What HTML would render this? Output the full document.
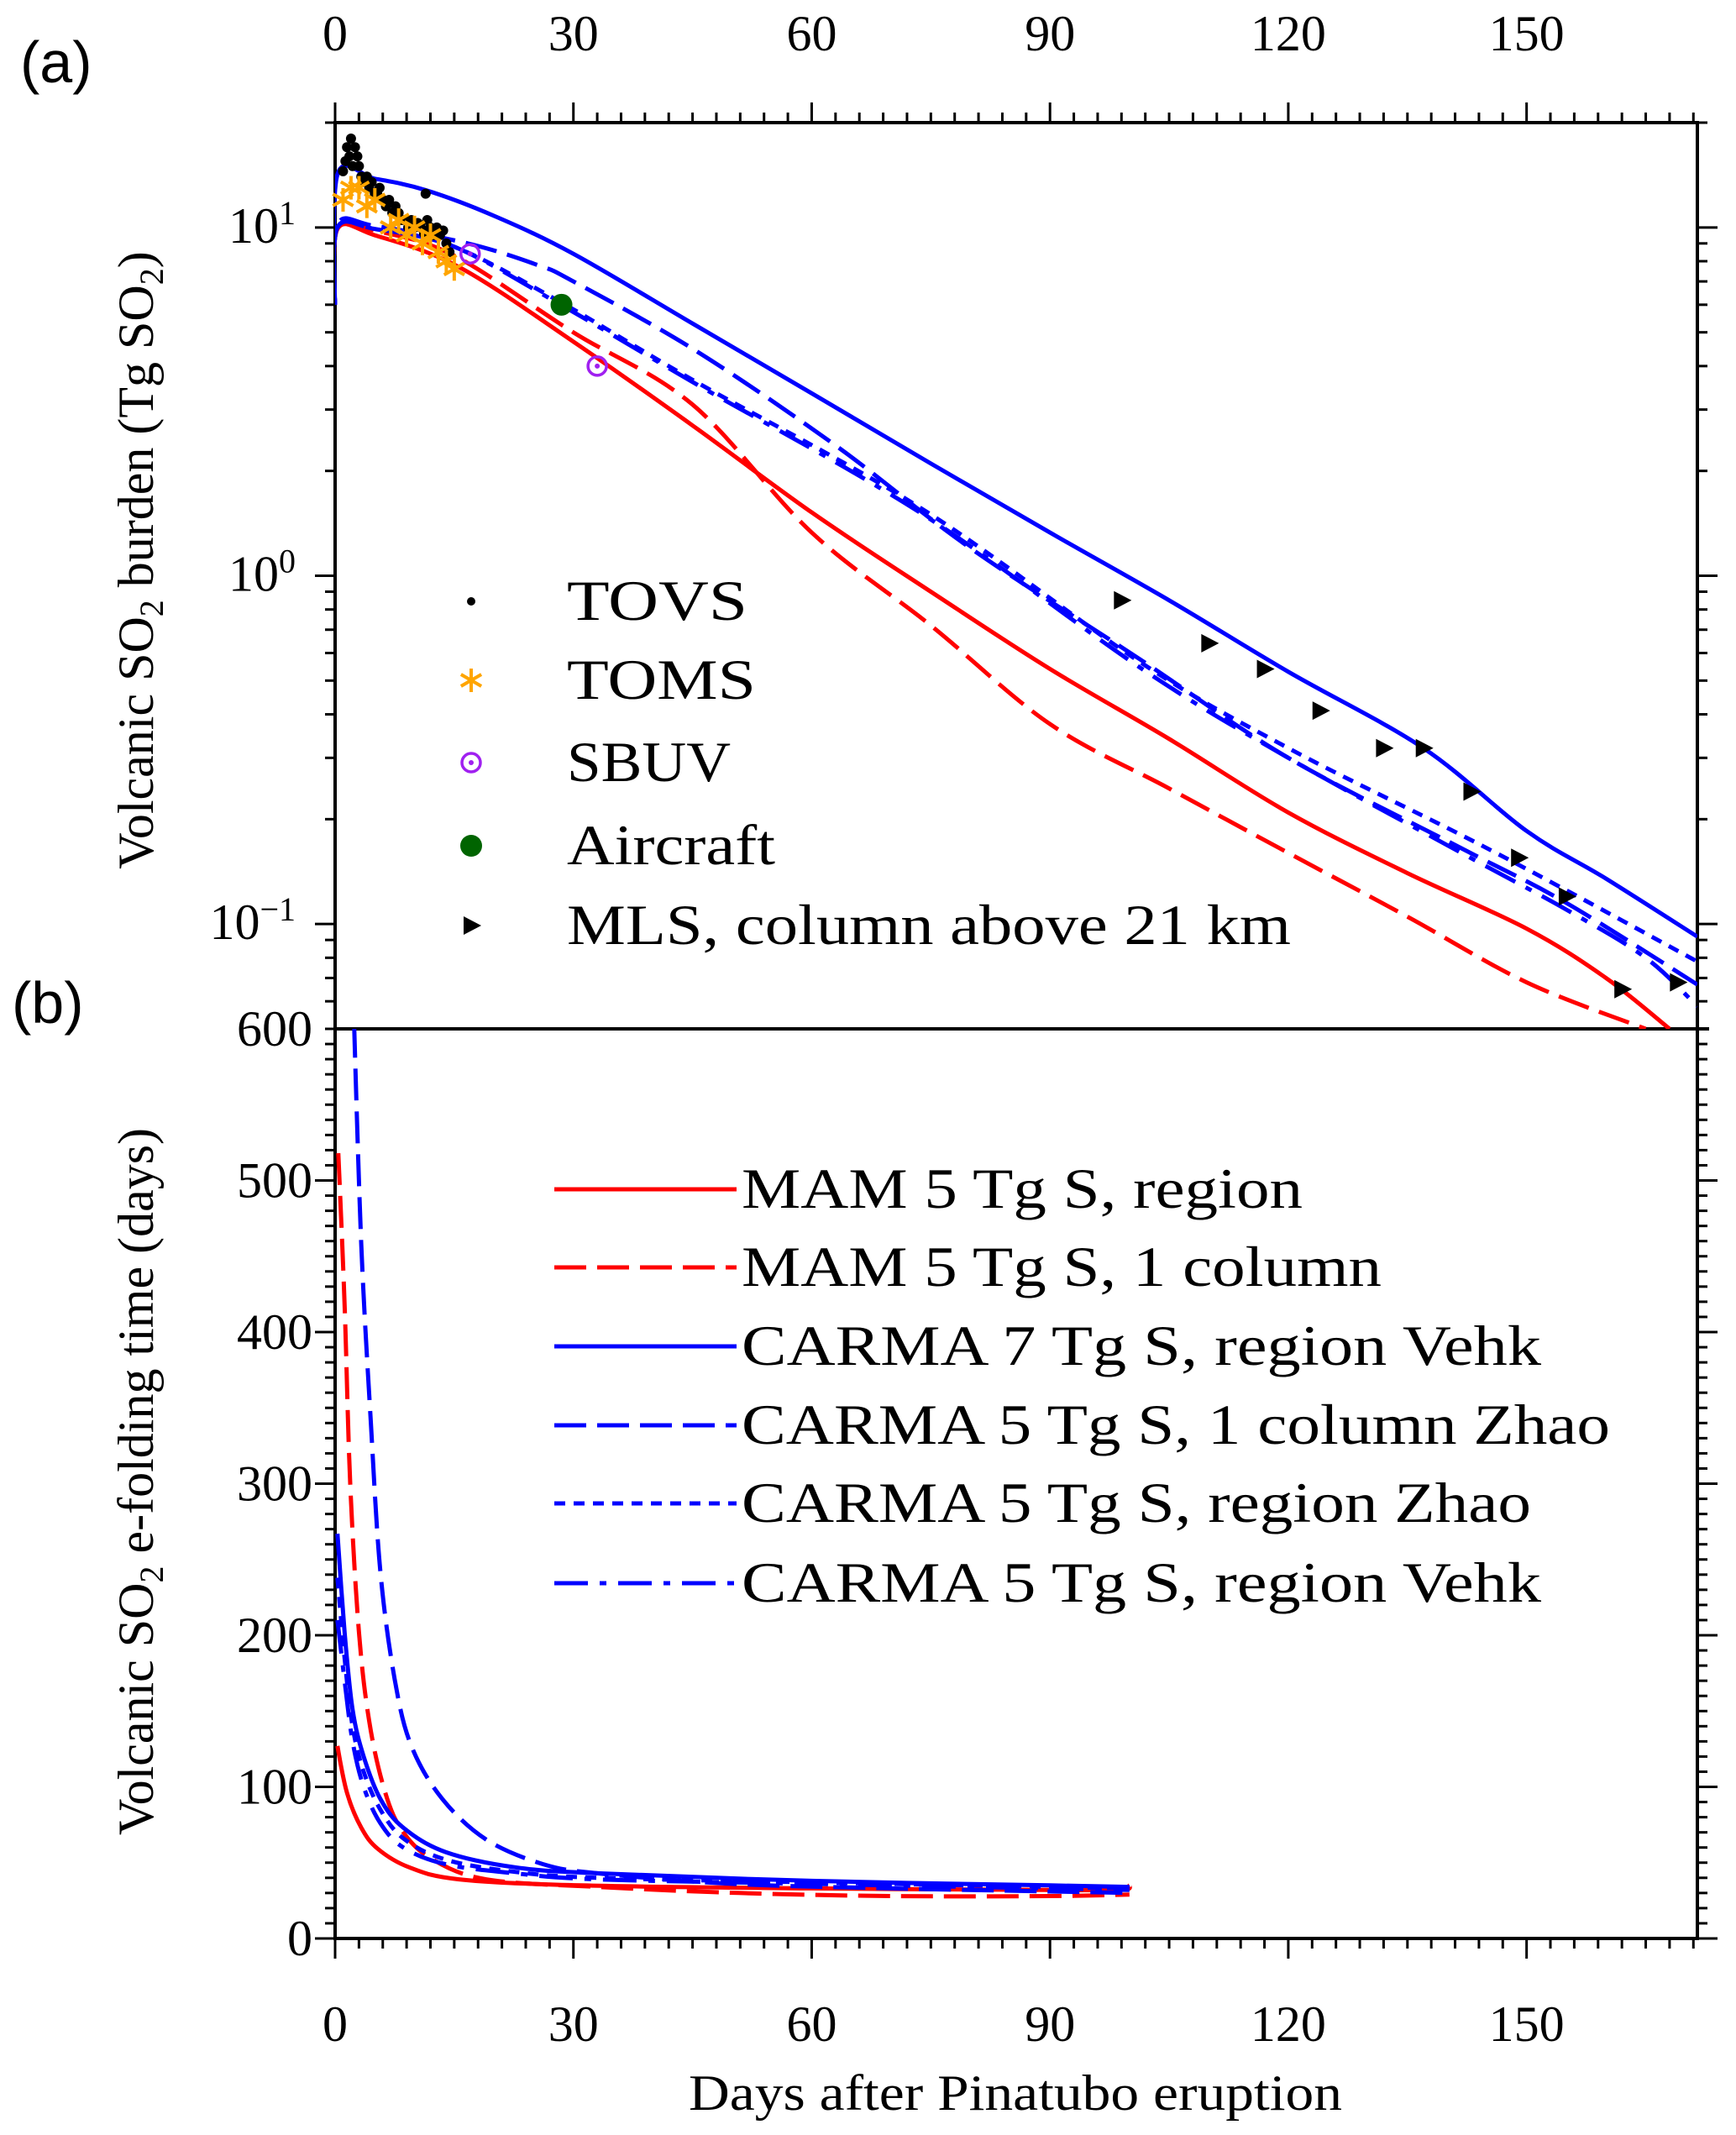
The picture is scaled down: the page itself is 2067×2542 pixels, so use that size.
<!DOCTYPE html>
<html><head><meta charset="utf-8">
<style>
html,body{margin:0;padding:0;background:#fff;}
svg{display:block;}
svg text{font-family:"Liberation Serif","Times New Roman",Times,serif;}
</style></head>
<body>
<svg id="chart" width="2067" height="2542" viewBox="0 0 2067 2542" xmlns="http://www.w3.org/2000/svg">
<defs>
<clipPath id="clipTop"><rect x="399" y="146" width="1622" height="1079"/></clipPath>
<clipPath id="clipBot"><rect x="399" y="1225" width="1622" height="1083"/></clipPath>
</defs>
<g id="axes"></g>
<g id="marks"></g>
<g id="labels">
<text x="24" y="98" style="font-family:'Liberation Sans',sans-serif" font-size="70">(a)</text>
<text x="14" y="1218" style="font-family:'Liberation Sans',sans-serif" font-size="70">(b)</text>
<text x="1209" y="2512" font-size="60" text-anchor="middle" textLength="778" lengthAdjust="spacingAndGlyphs">Days after Pinatubo eruption</text>
<text transform="translate(182,667) rotate(-90)" font-size="60" text-anchor="middle">Volcanic SO<tspan font-size="40" dy="12">2</tspan><tspan dy="-12"> burden (Tg SO</tspan><tspan font-size="40" dy="12">2</tspan><tspan dy="-12">)</tspan></text>
<text transform="translate(182,1764) rotate(-90)" font-size="60" text-anchor="middle">Volcanic SO<tspan font-size="40" dy="12">2</tspan><tspan dy="-12"> e-folding time (days)</tspan></text>
</g>
</svg>
<script>
// ---- data ----
const xTicks = [0,30,60,90,120,150];
const logTickExp = [1,0,-1];
const bTicks = [0,100,200,300,400,500,600];

const topMamRegionDays = [0,0.3,5,15.6,30,45,60,75,90,105,120,135,150,160,168];
const topMamRegionVals = [6,9.9,9.5,7.7,4.7,2.7,1.52,0.9,0.54,0.34,0.209,0.14,0.097,0.07,0.05];
const topMamColDays = [0,0.3,5,15,30,45,60,75,90,105,120,135,150,165];
const topMamColVals = [6,10,9.8,8.3,5.0,3.1,1.33,0.72,0.375,0.245,0.16,0.105,0.068,0.05];
const topCarma7Days = [0,0.3,5,11.4,20,30,45,60,75,90,105,120,137,150,160,171.5];
const topCarma7Vals = [6,14.2,13.8,12.8,10.8,8.4,5.3,3.34,2.1,1.33,0.85,0.53,0.32,0.185,0.135,0.092];
const topCarmaColDays = [0,0.3,5,16.7,25.5,30,45.6,63.3,80,101.6,120,141.8,155,171.5];
const topCarmaColVals = [6,10.2,10.1,9.0,7.8,7.0,4.4,2.34,1.2,0.57,0.3,0.165,0.115,0.067];
const topCarmaZhaoDays = [0,0.3,5,15,28.4,45,74,101.6,120,141.8,155,171.5];
const topCarmaZhaoVals = [6,10,9.9,8.8,6.1,3.65,1.55,0.56,0.32,0.18,0.125,0.078];
const topCarmaVehkDays = [0,0.3,5,15,28.4,45,74,101.6,120,141.8,155,165,171.5];
const topCarmaVehkVals = [6,10,9.9,8.8,6.0,3.6,1.5,0.54,0.3,0.16,0.11,0.08,0.058];

const tovsDays = [1,1.3,1.5,1.8,2,2.2,2.5,2.8,3,3.3,3.5,3.8,4,4.3,4.6,5,5.3,5.6,6,6.4,6.8,7.2,7.6,8,8.4,8.8,9.2,9.6,10,10.4,10.8,11.2,11.6,12,12.4,12.8,13.2,13.6,14,14.4,11.4];
const tovsVals = [14.5,15.5,17,16,18,15,17,16,15,14,13.5,13.5,14,13,13.5,12.5,12.5,13,12,11.5,12,11,11.5,11,10.5,10.5,10,10.5,10,10.3,10,9.6,10.5,10,9.5,10,9.5,9.8,9,8.5,12.5];
const tomsDays = [1,2,3,4,5,7,8,9,10,11,12,13,14,15];
const tomsVals = [12,13,13,11.5,12,10,10.5,9.5,10,9,9.5,8.5,8,7.6];
const sbuvDays = [17,33];
const sbuvVals = [8.4,4.0];
const aircraftDays = [28.5];
const aircraftVals = [6.0];
const mlsDays = [99,110,117,124,132,137,143,149,155,162,169];
const mlsVals = [0.85,0.64,0.54,0.41,0.32,0.32,0.24,0.155,0.12,0.065,0.068];

const botMamRegionDays = [0.3,1.5,3.3,5.4,9.3,15.6,31,60,90,99,100];
const botMamRegionVals = [127,96,73,59,47,39,35,33,32,32,35];
const botMamColDays = [0.4,1.2,1.9,3,4.3,6.1,8.2,12,19,33,50.8,70,90,100];
const botMamColVals = [518,418,300,202,143,100,73,53,39,34,30,28,28,29];
const botCarma7Days = [0.3,1.2,2.2,3.6,5.7,8.6,13.9,22.6,33,60,90,100];
const botCarma7Vals = [267,202,151,120,92,73,57,47,43,38,35,34];
const botCarmaColDays = [2.4,3.3,4.5,5.7,7.5,9.6,13.5,19.1,26.2,33,50,70,90,100];
const botCarmaColVals = [602,457,340,242,171,127,92,65,49,43,36,33,31,30];
const botCarmaZhaoDays = [0.3,1.2,2.2,3.6,5.7,8.6,13.9,22.6,33,60,100];
const botCarmaZhaoVals = [238,185,140,110,85,66,52,44,40,37,33];
const botCarmaVehkDays = [0.3,1.2,2.2,3.6,5.7,8.6,13.9,22.6,33,60,100];
const botCarmaVehkVals = [210,170,130,100,76,60,49,43,39,36,32];

const legendTopLabels = ["TOVS","TOMS","SBUV","Aircraft","MLS, column above 21 km"];
const legendBotLabels = ["MAM 5 Tg S, region","MAM 5 Tg S, 1 column","CARMA 7 Tg S, region Vehk","CARMA 5 Tg S, 1 column Zhao","CARMA 5 Tg S, region Zhao","CARMA 5 Tg S, region Vehk"];

// ---- scales ----
const L=399,R=2021,T=146,M=1225,B=2308,XMAX=171.5;
const LMAX=Math.log10(20),LMIN=Math.log10(0.05);
function sx(d){return L+d*(R-L)/XMAX;}
function syTop(v){return T+(LMAX-Math.log10(v))/(LMAX-LMIN)*(M-T);}
function syBot(v){return B-v*(B-M)/600;}
const NS="http://www.w3.org/2000/svg";
const axes=document.getElementById('axes'), marks=document.getElementById('marks');
function mk(tag,attrs,parent){const e=document.createElementNS(NS,tag);for(const k in attrs)e.setAttribute(k,attrs[k]);parent.appendChild(e);return e;}
function line(x1,y1,x2,y2,w,parent,name){const e=mk('line',{x1:x1,y1:y1,x2:x2,y2:y2,stroke:'#000','stroke-width':w},parent);


return e;}
function txt(x,y,s,size,anchor,name,parent){const e=mk('text',{x:x,y:y,'font-size':size,'text-anchor':anchor},parent);e.textContent=s;


return e;}

const frame=mk('rect',{x:L,y:T,width:R-L,height:B-T,fill:'none',stroke:'#000','stroke-width':4},axes);


line(L,M,R+14,M,4,axes,'panel-divider');

for(let d=0;d<=XMAX;d+=3){
  const major=(d%30===0);const len=major?24:12;
  line(sx(d),T,sx(d),T-len,3,axes,'top-x-tick');
  line(sx(d),B,sx(d),B+len,3,axes,'bottom-x-tick');
}
xTicks.forEach(d=>{
  txt(sx(d),60,String(d),60,'middle','top-x-tick-label',axes);
  txt(sx(d),2430,String(d),60,'middle','bottom-x-tick-label',axes);
});
for(let e=-2;e<=1;e++){
  for(let m=1;m<=9;m++){
    const v=m*Math.pow(10,e); if(v<0.05||v>20)continue;
    const len=(m===1)?24:12;
    line(L,syTop(v),L-len,syTop(v),3,axes,'top-y-tick');
    line(R,syTop(v),R+len,syTop(v),3,axes,'top-y-tick-right');
  }
}
logTickExp.forEach(e=>{
  const y=syTop(Math.pow(10,e));
  const t=mk('text',{x:352,y:y+18,'font-size':60,'text-anchor':'end'},axes);
  
  
  t.appendChild(document.createTextNode('10'));
  const sp=document.createElementNS(NS,'tspan');sp.setAttribute('font-size','40');sp.setAttribute('dy','-22');sp.textContent=(e<0?'\u2212':'')+Math.abs(e);t.appendChild(sp);
});
for(let v=0;v<600;v+=10){
  const len=(v%100===0)?24:12;
  line(L,syBot(v),L-len,syBot(v),3,axes,'bottom-y-tick');
  line(R,syBot(v),R+len,syBot(v),3,axes,'bottom-y-tick-right');
}
bTicks.forEach(v=>txt(372,syBot(v)+20,String(v),60,'end','bottom-y-tick-label',axes));

// smooth path via Catmull-Rom
function path(days,vals,sy,color,dash,clip,name){
  const p=days.map((x,i)=>[sx(x),sy(vals[i])]);
  let d='M'+p[0][0].toFixed(1)+','+p[0][1].toFixed(1);
  for(let i=0;i<p.length-1;i++){
    const p0=p[Math.max(i-1,0)],p1=p[i],p2=p[i+1],p3=p[Math.min(i+2,p.length-1)];
    const c1=[p1[0]+(p2[0]-p0[0])/6,p1[1]+(p2[1]-p0[1])/6];
    const c2=[p2[0]-(p3[0]-p1[0])/6,p2[1]-(p3[1]-p1[1])/6];
    if(i===0){c1[0]=p1[0];c1[1]=p1[1];}
    d+='C'+c1[0].toFixed(1)+','+c1[1].toFixed(1)+' '+c2[0].toFixed(1)+','+c2[1].toFixed(1)+' '+p2[0].toFixed(1)+','+p2[1].toFixed(1);
  }
  const e=mk('path',{d:d,fill:'none',stroke:color,'stroke-width':5,'stroke-dasharray':dash,'clip-path':'url(#'+clip+')'},marks);
  
  
}
const DASH='38 13', DOT='13 10', DASHDOT='40 14 8 14';
path(topMamRegionDays,topMamRegionVals,syTop,'#f00','none','clipTop','top-mam-region-line');
path(topMamColDays,topMamColVals,syTop,'#f00',DASH,'clipTop','top-mam-column-line');
path(topCarma7Days,topCarma7Vals,syTop,'#00f','none','clipTop','top-carma7-region-vehk-line');
path(topCarmaColDays,topCarmaColVals,syTop,'#00f',DASH,'clipTop','top-carma5-column-zhao-line');
path(topCarmaZhaoDays,topCarmaZhaoVals,syTop,'#00f',DOT,'clipTop','top-carma5-region-zhao-line');
path(topCarmaVehkDays,topCarmaVehkVals,syTop,'#00f',DASHDOT,'clipTop','top-carma5-region-vehk-line');

path(botMamRegionDays,botMamRegionVals,syBot,'#f00','none','clipBot','bottom-mam-region-line');
path(botMamColDays,botMamColVals,syBot,'#f00',DASH,'clipBot','bottom-mam-column-line');
path(botCarma7Days,botCarma7Vals,syBot,'#00f','none','clipBot','bottom-carma7-region-vehk-line');
path(botCarmaColDays,botCarmaColVals,syBot,'#00f',DASH,'clipBot','bottom-carma5-column-zhao-line');
path(botCarmaZhaoDays,botCarmaZhaoVals,syBot,'#00f',DOT,'clipBot','bottom-carma5-region-zhao-line');
path(botCarmaVehkDays,botCarmaVehkVals,syBot,'#00f',DASHDOT,'clipBot','bottom-carma5-region-vehk-line');

function dot(x,y,r,fill,name){const c=mk('circle',{cx:x,cy:y,r:r,fill:fill},marks);

}
function star(x,y,name){const g=mk('g',{stroke:'#ffa500','stroke-width':4},marks);


for(let a=0;a<3;a++){const t=a*Math.PI/3+Math.PI/2;mk('line',{x1:x-14*Math.cos(t),y1:y-14*Math.sin(t),x2:x+14*Math.cos(t),y2:y+14*Math.sin(t)},g);}}
function sbuv(x,y,name){const g=mk('g',{},marks);


mk('circle',{cx:x,cy:y,r:11,fill:'none',stroke:'#a020f0','stroke-width':3.5},g);mk('circle',{cx:x,cy:y,r:3,fill:'#a020f0'},g);}
function tri(x,y,name){const p=mk('polygon',{points:(x-9)+','+(y-11)+' '+(x+12)+','+y+' '+(x-9)+','+(y+11),fill:'#000'},marks);

}
tovsDays.forEach((d,i)=>dot(sx(d),syTop(tovsVals[i]),6,'#000','tovs-point'));
tomsDays.forEach((d,i)=>star(sx(d),syTop(tomsVals[i]),'toms-point'));
sbuvDays.forEach((d,i)=>sbuv(sx(d),syTop(sbuvVals[i]),'sbuv-point'));
aircraftDays.forEach((d,i)=>dot(sx(d),syTop(aircraftVals[i]),13,'#006400','aircraft-point'));
mlsDays.forEach((d,i)=>tri(sx(d),syTop(mlsVals[i]),'mls-point'));

const ltY=[716,810,908,1007,1102];
const ltW=[215,225,195,248,862];
dot(561,ltY[0],5,'#000','legend-tovs-marker');
star(561,ltY[1],'legend-toms-marker');
sbuv(561,ltY[2],'legend-sbuv-marker');
dot(561,ltY[3],13,'#006400','legend-aircraft-marker');
tri(561,ltY[4],'legend-mls-marker');
legendTopLabels.forEach((s,i)=>{const t=txt(675,ltY[i]+22,s,68,'start','legend-top-entry',marks);t.setAttribute('textLength',ltW[i]);t.setAttribute('lengthAdjust','spacingAndGlyphs');});

const lbY=[1416,1509,1603,1697,1790,1885];
const lbW=[668,762,952,1034,940,952];
const lbColor=['#f00','#f00','#00f','#00f','#00f','#00f'];
const lbDash=['none',DASH,'none',DASH,DOT,DASHDOT];
legendBotLabels.forEach((s,i)=>{
  const l=mk('line',{x1:660,y1:lbY[i],x2:877,y2:lbY[i],stroke:lbColor[i],'stroke-width':5,'stroke-dasharray':lbDash[i]},marks);
  
  
  const t=txt(883,lbY[i]+22,s,68,'start','legend-bottom-entry',marks);t.setAttribute('textLength',lbW[i]);t.setAttribute('lengthAdjust','spacingAndGlyphs');
});
</script>
</body></html>
